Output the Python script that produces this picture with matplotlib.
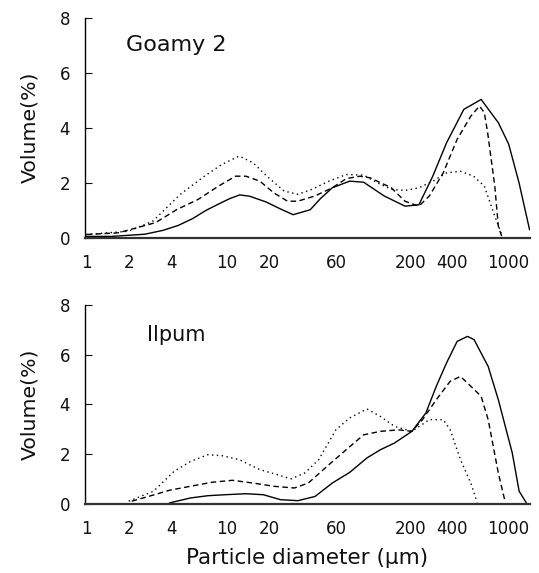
import matplotlib
matplotlib.use("Agg")
import matplotlib.pyplot as plt

# x ticks shown on both panels
tick_vals = [1, 2, 4, 10, 20, 60, 200, 400, 1000]

# Goamy 2 (top panel)
g_solid_d = [1, 1.5, 2.6, 3.5, 4.5, 5.7, 7.1, 8.8, 10.4, 12.3, 14.5, 19, 23.7, 29.5,
             39, 46, 56, 74.5, 93.5, 131, 184, 231, 290, 363, 482, 640, 849, 1005, 1190, 1413]
g_solid_v = [0.05, 0.05, 0.13, 0.27, 0.45, 0.7, 1.0, 1.24, 1.42, 1.56, 1.51, 1.3, 1.06, 0.84,
             1.02, 1.42, 1.82, 2.06, 2.02, 1.52, 1.15, 1.2, 2.24, 3.45, 4.67, 5.03, 4.18, 3.4, 2.0, 0.3]

g_dash_d = [1, 1.68, 2.5, 3.1, 4.4, 6.2, 8.7, 11.5, 13.6, 17.1, 21.4, 26.9, 31.8, 42.1, 56,
            70.3, 88, 104, 147, 184, 231, 274, 344, 432, 540, 623, 674, 712, 800, 848, 895]
g_dash_v = [0.12, 0.18, 0.42, 0.55, 1.03, 1.39, 1.88, 2.24, 2.24, 2.06, 1.64, 1.33, 1.33, 1.52, 1.82,
            2.15, 2.24, 2.18, 1.82, 1.33, 1.15, 1.52, 2.36, 3.58, 4.42, 4.79, 4.55, 3.82, 1.88, 0.42, 0.06]

g_dot_d = [1, 2.0, 2.96, 4.65, 6.9, 9.2, 12.2, 15.3, 19.2, 25.4, 31.8, 40, 53, 70.3, 93.5,
           117, 147, 184, 231, 290, 363, 456, 565, 674, 800, 895]
g_dot_v = [0.12, 0.24, 0.6, 1.58, 2.24, 2.67, 2.97, 2.73, 2.24, 1.7, 1.58, 1.76, 2.06, 2.3, 2.28,
           2.0, 1.76, 1.72, 1.82, 2.06, 2.36, 2.42, 2.24, 1.88, 0.79, 0.12]

# Ilpum (bottom panel)
i_solid_d = [3.9, 5.5, 7.3, 9.7, 13.6, 18.1, 24, 31.9, 42.2, 56, 74.5, 98.7, 123, 155, 206,
             259, 307, 363, 432, 512, 570, 718, 848, 1065, 1192, 1335]
i_solid_v = [0.03, 0.23, 0.32, 0.36, 0.4, 0.36, 0.16, 0.12, 0.29, 0.83, 1.26, 1.84, 2.17, 2.44, 2.91,
             3.65, 4.72, 5.66, 6.53, 6.73, 6.6, 5.52, 4.18, 2.04, 0.5, 0.05]

i_dash_d = [2.1, 2.8, 3.9, 5.5, 7.8, 10.9, 15.3, 21.4, 30.1, 37.8, 53, 70.3, 93.5, 123, 165,
            206, 245, 307, 385, 456, 512, 640, 718, 848, 950]
i_dash_v = [0.1, 0.3, 0.54, 0.7, 0.86, 0.94, 0.83, 0.7, 0.63, 0.83, 1.57, 2.17, 2.77, 2.91, 2.97,
            2.91, 3.38, 4.18, 4.92, 5.12, 4.85, 4.32, 3.38, 1.23, 0.05]

i_dot_d = [2.0, 3.0, 4.2, 5.5, 7.3, 9.2, 12.2, 17.1, 21.4, 28.5, 35.6, 44.8, 59.5, 74.5, 98.7,
           123, 155, 206, 274, 344, 385, 456, 540, 600]
i_dot_v = [0.1, 0.5, 1.3, 1.7, 1.97, 1.93, 1.77, 1.37, 1.21, 1.0, 1.23, 1.77, 2.98, 3.45, 3.81,
           3.51, 3.11, 2.91, 3.38, 3.38, 2.98, 1.77, 0.83, 0.05]

plt.rcParams['font.family'] = ['DejaVu Sans']
ink = "#111111"

fig = plt.figure(figsize=(5.39, 5.73), dpi=100)
ax1 = fig.add_axes([0.158, 0.585, 0.825, 0.384])
ax2 = fig.add_axes([0.158, 0.121, 0.825, 0.347])


def style(ax, name, name_x, name_y, name_size):
    ax.set_xscale("log")
    ax.set_xlim(0.98, 1420)
    ax.set_ylim(0, 8)
    ax.set_xticks(tick_vals)
    ax.set_xticklabels([str(t) for t in tick_vals])
    ax.minorticks_off()
    ax.set_yticks([0, 2, 4, 6, 8])
    ax.tick_params(axis="x", length=0, pad=12, labelsize=12, colors=ink)
    ax.tick_params(axis="y", direction="in", length=5, pad=11, labelsize=12, colors=ink)
    ax.spines["top"].set_visible(False)
    ax.spines["right"].set_visible(False)
    ax.spines["left"].set_linewidth(1.0)
    ax.spines["bottom"].set_linewidth(1.6)
    ax.spines["bottom"].set_color("#333333")
    ax.set_ylabel("Volume(%)", fontsize=14.7, labelpad=14, color=ink)
    ax.text(name_x, name_y, name, transform=ax.transAxes, fontsize=name_size,
            color=ink, va="center")


ax1.plot(g_solid_d, g_solid_v, "k-", lw=1.0)
ax1.plot(g_dash_d, g_dash_v, "k", lw=1.0, linestyle=(0, (4, 2.5)))
ax1.plot(g_dot_d, g_dot_v, "k", lw=1.0, linestyle=(0, (1, 2.5)))
style(ax1, "Goamy 2", 0.092, 0.877, 16)

ax2.plot(i_solid_d, i_solid_v, "k-", lw=1.0)
ax2.plot(i_dash_d, i_dash_v, "k", lw=1.0, linestyle=(0, (4, 2.5)))
ax2.plot(i_dot_d, i_dot_v, "k", lw=1.0, linestyle=(0, (1, 2.5)))
style(ax2, "Ilpum", 0.14, 0.85, 15)
ax2.set_xlabel("Particle diameter (\u00b5m)", fontsize=15.5, labelpad=7, color=ink)

fig.savefig("out.png", dpi=100)
